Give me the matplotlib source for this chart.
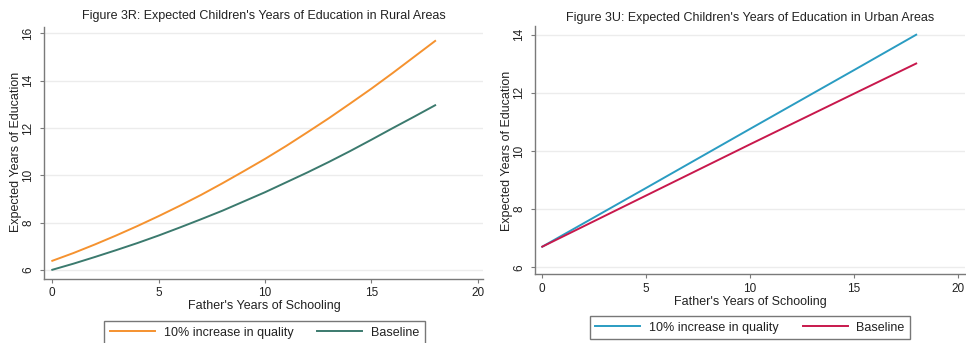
import matplotlib
matplotlib.use('Agg')
import matplotlib.pyplot as plt
from matplotlib.ticker import MultipleLocator

plt.rcParams['font.family'] = ['Liberation Sans', 'DejaVu Sans']

# 父親受教年數
rural_x = [0, 1, 2, 3, 4, 5, 6, 7, 8, 9, 10, 11, 12, 13, 14, 15, 16, 17, 18]
rural_quality = [6.38, 6.71, 7.07, 7.45, 7.85, 8.27, 8.71, 9.17, 9.66, 10.17,
                 10.69, 11.24, 11.82, 12.41, 13.03, 13.66, 14.32, 15.00, 15.68]
rural_baseline = [6.00, 6.26, 6.54, 6.83, 7.13, 7.45, 7.79, 8.14, 8.50, 8.89,
                  9.28, 9.70, 10.12, 10.56, 11.02, 11.50, 11.99, 12.47, 12.96]

urban_x = [0, 5, 10, 15, 18]
urban_quality = [6.71, 8.73, 10.76, 12.78, 14.00]
urban_baseline = [6.71, 8.47, 10.23, 11.97, 13.01]

rural_title = "Figure 3R: Expected Children's Years of Education in Rural Areas"
urban_title = "Figure 3U: Expected Children's Years of Education in Urban Areas"
x_label = "Father's Years of Schooling"
y_label = 'Expected Years of Education'
legend_labels = ['10% increase in quality', 'Baseline']

TEXT = '#222222'
AXIS = '#7a7a7a'
FS = 9


def style_axes(ax, xlim, ylim, ystep):
    """Stata 風格的座標軸：只有左、下軸線，淺灰水平格線。"""
    ax.set_xlim(*xlim)
    ax.set_ylim(*ylim)
    ax.xaxis.set_major_locator(MultipleLocator(5))
    ax.yaxis.set_major_locator(MultipleLocator(ystep))
    for side in ['top', 'right']:
        ax.spines[side].set_visible(False)
    for side in ['left', 'bottom']:
        ax.spines[side].set_color(AXIS)
        ax.spines[side].set_linewidth(1.0)
    ax.grid(axis='y', color='#ececec', linewidth=1.0)
    ax.set_axisbelow(True)
    ax.tick_params(colors=AXIS, labelcolor=TEXT, labelsize=8.5, length=3, width=0.8)
    ax.tick_params(axis='x', pad=3)
    ax.tick_params(axis='y', pad=4, labelrotation=90)
    for lab in ax.get_yticklabels():
        lab.set_va('center')


def draw_panel(fig, rect, x, quality, baseline, colors, title, title_xy,
               xlim, ylim, ystep, xlab_pos, ylab_pos, legend_xy):
    ax = fig.add_axes(rect)
    ax.plot(x, quality, color=colors[0], linewidth=1.4, label=legend_labels[0])
    ax.plot(x, baseline, color=colors[1], linewidth=1.4, label=legend_labels[1])
    style_axes(ax, xlim, ylim, ystep)

    ax.set_xlabel(x_label, fontsize=FS, color=TEXT, va='center')
    ax.xaxis.set_label_coords(*xlab_pos)
    ax.set_ylabel(y_label, fontsize=FS, color=TEXT, va='center')
    ax.yaxis.set_label_coords(*ylab_pos)

    fig.text(title_xy[0], title_xy[1], title, ha='center', va='center',
             fontsize=FS, color=TEXT)

    leg = fig.legend(*ax.get_legend_handles_labels(), loc='upper center',
                     bbox_to_anchor=legend_xy, ncol=2, fontsize=FS,
                     frameon=True, fancybox=False, handlelength=3.6,
                     handletextpad=0.7, columnspacing=1.9, borderpad=0.45,
                     borderaxespad=0)
    leg.get_frame().set_edgecolor('#555555')
    leg.get_frame().set_linewidth(1.0)
    for t in leg.get_texts():
        t.set_color(TEXT)
    return ax


W, H = 966, 343
fig = plt.figure(figsize=(W / 100, H / 100), dpi=100)

# 左圖：鄉村
draw_panel(fig, [44 / W, 1 - 279 / H, 439 / W, 252 / H],
           rural_x, rural_quality, rural_baseline, ['#f5922f', '#3b7a6e'],
           rural_title, (264 / W, 1 - 16 / H),
           (-0.39, 20.25), (5.61, 16.27), 2,
           (0.502, -0.107), (-0.064, 0.505), (264.5 / W, 1 - 321 / H))

# 右圖：都市
draw_panel(fig, [535 / W, 1 - 274.3 / H, 430 / W, 248.3 / H],
           urban_x, urban_quality, urban_baseline, ['#2a9cc2', '#c8184c'],
           urban_title, (750 / W, 1 - 17.5 / H),
           (-0.35, 20.35), (5.76, 14.3), 2,
           (0.5, -0.112), (-0.065, 0.497), (750 / W, 1 - 316 / H))

fig.savefig('out.png', dpi=100)
